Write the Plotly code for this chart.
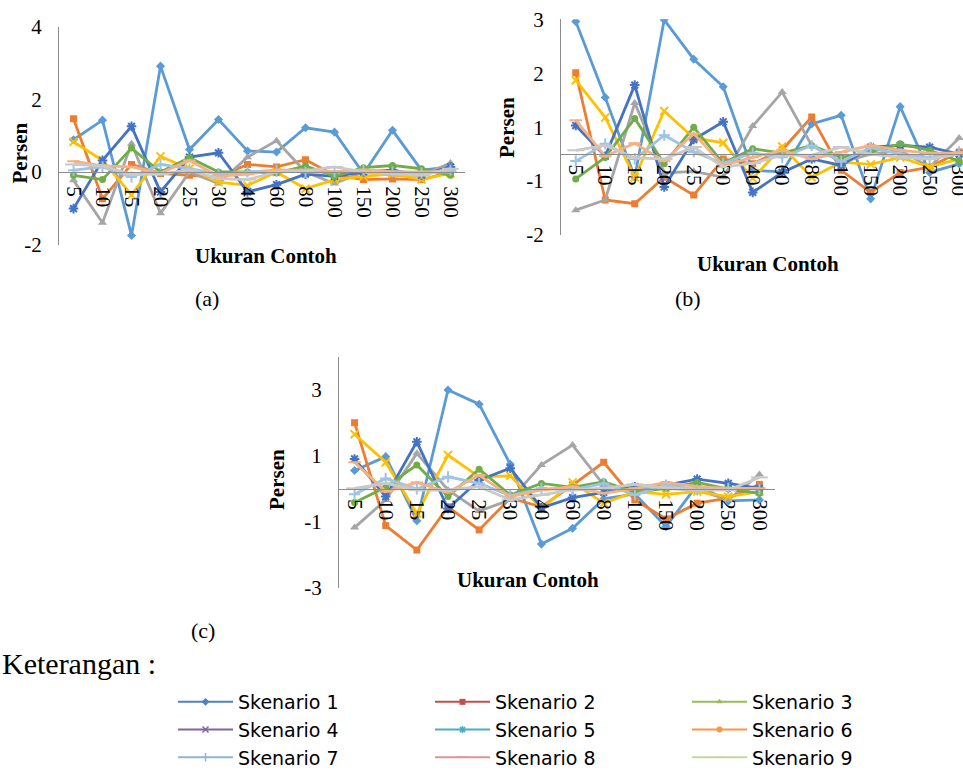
import plotly.graph_objects as go

# ---------------- data ----------------
categories = ["5", "10", "15", "20", "25", "30", "40", "60", "80", "100", "150", "200", "250", "300"]
series_names = ["Skenario 1", "Skenario 2", "Skenario 3", "Skenario 4", "Skenario 5",
                "Skenario 6", "Skenario 7", "Skenario 8", "Skenario 9"]

# panel (a)
a1 = [0.89, 1.43, -1.75, 2.92, 0.62, 1.45, 0.58, 0.55, 1.22, 1.10, -0.05, 1.15, 0.05, 0.14]
a2 = [1.47, -0.74, 0.21, -0.04, -0.09, -0.14, 0.21, 0.14, 0.34, -0.09, -0.21, -0.19, -0.21, 0.00]
a3 = [-0.23, -1.40, 0.78, -1.14, 0.00, -0.32, 0.41, 0.86, 0.00, -0.32, 0.00, -0.09, -0.09, 0.25]
a4 = [0.83, 0.32, -0.63, 0.43, 0.09, -0.28, -0.37, 0.00, -0.46, -0.21, -0.12, -0.05, -0.21, -0.03]
a5 = [-1.01, 0.32, 1.26, -0.55, 0.41, 0.53, -0.55, -0.35, -0.06, -0.12, 0.00, 0.05, -0.09, 0.14]
a6 = [-0.09, -0.21, 0.66, 0.00, 0.40, 0.00, 0.00, -0.03, 0.17, -0.12, 0.12, 0.18, 0.09, -0.09]
a7 = [0.05, 0.14, -0.14, 0.21, 0.09, -0.06, 0.00, 0.05, 0.00, 0.00, 0.05, 0.00, -0.03, 0.05]
a8 = [0.30, 0.17, 0.14, -0.03, 0.32, -0.12, -0.06, 0.05, 0.05, 0.00, 0.06, 0.00, 0.00, 0.00]
a9 = [0.21, 0.17, -0.07, -0.06, 0.06, -0.18, -0.21, 0.00, 0.03, 0.14, 0.00, -0.05, -0.09, 0.09]

# panel (b)
b1 = [2.46, 1.05, -0.43, 2.49, 1.76, 1.25, -0.30, -0.33, 0.56, 0.72, -0.83, 0.88, -0.34, -0.18]
b2 = [1.51, -0.85, -0.92, -0.43, -0.76, -0.09, -0.18, 0.08, 0.69, -0.30, -0.71, -0.34, -0.24, 0.04]
b3 = [-1.04, -0.85, 0.95, -0.35, -0.32, -0.43, 0.52, 1.15, 0.16, -0.15, 0.00, 0.07, -0.24, 0.30]
b4 = [1.37, 0.68, -0.43, 0.80, 0.30, 0.21, -0.45, 0.14, -0.43, -0.15, -0.19, -0.06, -0.24, -0.09]
b5 = [0.53, -0.04, 1.28, -0.61, 0.27, 0.60, -0.71, -0.34, -0.09, -0.21, 0.13, 0.16, 0.13, 0.00]
b6 = [-0.46, -0.06, 0.66, -0.18, 0.50, -0.17, 0.10, 0.02, 0.16, -0.06, 0.04, 0.19, 0.07, -0.13]
b7 = [-0.13, 0.19, -0.09, 0.35, 0.04, -0.17, 0.02, -0.06, 0.16, -0.14, 0.12, 0.00, -0.06, 0.04]
b8 = [0.63, -0.04, 0.20, -0.13, 0.38, -0.21, -0.06, 0.07, -0.09, 0.04, 0.16, 0.07, 0.02, 0.02]
b9 = [0.07, 0.16, -0.07, -0.09, 0.13, -0.24, -0.17, -0.02, -0.02, 0.13, 0.00, -0.06, -0.09, 0.00]

# panel (c)
c1 = [0.56, 0.98, -0.96, 3.00, 2.57, 0.75, -1.67, -1.19, -0.30, -0.15, -1.14, 0.12, -0.36, -0.33]
c2 = [2.01, -1.11, -1.85, -0.54, -1.24, -0.28, -0.54, 0.12, 0.81, -0.33, -0.91, -0.43, -0.28, 0.14]
c3 = [-1.17, -0.33, 1.08, -0.03, -0.67, -0.33, 0.73, 1.33, 0.12, -0.03, 0.02, -0.03, -0.33, 0.44]
c4 = [1.66, 0.81, -0.74, 1.03, 0.37, 0.40, -0.59, 0.20, -0.43, -0.08, -0.16, -0.08, -0.23, -0.08]
c5 = [0.91, -0.23, 1.43, -0.59, 0.27, 0.63, -0.57, -0.26, -0.10, 0.07, 0.12, 0.30, 0.17, 0.02]
c6 = [-0.41, 0.05, 0.73, -0.23, 0.60, -0.18, 0.17, 0.05, 0.22, -0.10, 0.02, 0.20, 0.00, -0.13]
c7 = [-0.16, 0.32, 0.00, 0.37, 0.17, -0.20, 0.02, -0.03, 0.17, -0.18, 0.12, -0.03, 0.02, 0.00]
c8 = [0.81, -0.08, 0.20, -0.10, 0.42, -0.23, -0.03, 0.07, -0.13, 0.02, 0.20, 0.07, 0.02, 0.02]
c9 = [0.02, 0.17, -0.03, -0.03, 0.07, -0.33, -0.18, -0.03, 0.02, 0.14, 0.04, -0.03, -0.03, 0.35]

panel_a = [a1, a2, a3, a4, a5, a6, a7, a8, a9]
panel_b = [b1, b2, b3, b4, b5, b6, b7, b8, b9]
panel_c = [c1, c2, c3, c4, c5, c6, c7, c8, c9]

# y tick positions / labels (as printed in each panel)
ya_vals = [-2, 0, 2, 4]
ya_text = ["-2", "0", "2", "4"]
yb_vals = [-1.5, -0.5, 0.5, 1.5, 2.5]
yb_text = ["-2", "-1", "1", "2", "3"]
yc_vals = [-3, -1, 1, 3]
yc_text = ["-3", "-1", "1", "3"]

# ---------------- styles ----------------
line_colors = ["#5B9BD5", "#ED7D31", "#A5A5A5", "#FFC000", "#4472C4",
               "#70AD47", "#9DC3E6", "#F4B183", "#C9C9C9"]
legend_colors = ["#4F81BD", "#C0504D", "#9BBB59", "#8064A2", "#4BACC6",
                 "#F79646", "#95B3D7", "#D99694", "#C3D69B"]
symbols = ["diamond", "square", "triangle-up", "x-thin", "asterisk",
           "circle", "cross-thin", "line-ew", "line-ew"]
msizes = [7, 7, 8, 8, 8, 7, 8, 9, 12]
line_sym = {"x-thin", "asterisk", "cross-thin", "line-ew"}

W, H = 963, 772
def px(x):
    return x / W
def py(y):
    return 1 - y / H

fig = go.Figure()

panels = [
    (panel_a, "x", "y"),
    (panel_b, "x2", "y2"),
    (panel_c, "x3", "y3"),
]
for data, xa, ya in panels:
    for i, vals in enumerate(data):
        sym = symbols[i]
        mk = dict(symbol=sym, size=msizes[i], color=line_colors[i])
        if sym in line_sym:
            mk["line"] = dict(color=line_colors[i], width=2)
        else:
            mk["line"] = dict(width=0)
        fig.add_trace(go.Scatter(
            x=categories, y=vals, mode="lines+markers",
            line=dict(color=line_colors[i], width=2.8),
            marker=mk, xaxis=xa, yaxis=ya, showlegend=False,
            name=series_names[i], cliponaxis=True))

# legend-only entries (legend palette as printed)
legend_of = ["legend", "legend2", "legend3"]
for i, nm in enumerate(series_names):
    sym = symbols[i]
    mk = dict(symbol=sym, size=6, color=legend_colors[i])
    if sym in line_sym:
        mk["line"] = dict(color=legend_colors[i], width=1.5)
    else:
        mk["line"] = dict(width=0)
    fig.add_trace(go.Scatter(
        x=[None], y=[None], mode="lines+markers", name=nm,
        line=dict(color=legend_colors[i], width=2), marker=mk,
        legend=legend_of[i % 3], showlegend=True, xaxis="x", yaxis="y"))

axis_line = "#8C8C8C"
tick_font = dict(family="Liberation Serif, Times New Roman, serif", size=21, color="black")

def xaxis(dom, rng, zero_pos, standoff):
    return dict(domain=dom, range=rng, type="category", anchor="free", position=zero_pos,
                showline=True, linecolor=axis_line, linewidth=1.3, ticks="",
                tickmode="array", tickvals=categories, ticktext=categories,
                tickangle=90, tickfont=tick_font, showgrid=False, zeroline=False,
                ticklabelstandoff=standoff)

def yaxis(dom, rng, xa, vals, text):
    return dict(domain=dom, range=rng, anchor=xa, showline=True, linecolor=axis_line,
                linewidth=1.3, ticks="", tickmode="array", tickvals=vals, ticktext=text,
                tickfont=tick_font, showgrid=False, zeroline=False, ticklabelstandoff=12)

# panel a
ya_dom = [py(244.5), py(27)]
za = ya_dom[0] + (ya_dom[1] - ya_dom[0]) * 2 / 6
# panel b
yb_dom = [py(235), py(19.3)]
zb = yb_dom[0] + (yb_dom[1] - yb_dom[0]) * 1.5 / 4
# panel c
yc_dom = [py(588), py(357)]
zc = yc_dom[0] + (yc_dom[1] - yc_dom[0]) * 3 / 7

fig.update_layout(
    xaxis=xaxis([px(59), px(465)], [-0.5, 13.5], za, 9),
    yaxis=yaxis(ya_dom, [-2, 4], "x", ya_vals, ya_text),
    xaxis2=xaxis([px(561), 1.0], [-0.5, 13.13], zb, 5),
    yaxis2=yaxis(yb_dom, [-1.5, 2.5], "x2", yb_vals, yb_text),
    xaxis3=xaxis([px(339), px(775)], [-0.5, 13.5], zc, 5),
    yaxis3=yaxis(yc_dom, [-3, 4], "x3", yc_vals, yc_text),
)

leg_font = dict(family="DejaVu Sans, sans-serif", size=19, color="black")
for k, xx in zip(legend_of, [173, 430, 687]):
    fig.layout[k] = dict(x=px(xx), y=py(683), xanchor="left", yanchor="top",
                         orientation="v", font=leg_font, bgcolor="rgba(0,0,0,0)",
                         itemwidth=55, tracegroupgap=0, borderwidth=0)

title_font = dict(family="Liberation Serif, Times New Roman, serif", size=21, color="black")
lab_font = dict(family="Liberation Serif, Times New Roman, serif", size=22, color="black")
ann = []
for (xp, yp) in [(19.5, 153), (507, 127), (277, 480)]:
    ann.append(dict(text="<b>Persen</b>", x=px(xp), y=py(yp), xref="paper", yref="paper",
                    showarrow=False, textangle=-90, font=title_font,
                    xanchor="center", yanchor="middle"))
for (xp, yp) in [(266, 256), (768, 264), (528, 580)]:
    ann.append(dict(text="<b>Ukuran Contoh</b>", x=px(xp), y=py(yp), xref="paper", yref="paper",
                    showarrow=False, font=title_font, xanchor="center", yanchor="middle"))
for (t, xp, yp) in [("(a)", 207, 298), ("(b)", 688, 298), ("(c)", 203, 630)]:
    ann.append(dict(text=t, x=px(xp), y=py(yp), xref="paper", yref="paper",
                    showarrow=False, font=lab_font, xanchor="center", yanchor="middle"))
ann.append(dict(text="Keterangan :", x=0, y=py(663), xref="paper", yref="paper",
                showarrow=False, xanchor="left", yanchor="middle",
                font=dict(family="Liberation Serif, Times New Roman, serif", size=30, color="black")))

fig.update_layout(
    width=W, height=H, margin=dict(l=0, r=0, t=0, b=0, autoexpand=False),
    paper_bgcolor="white", plot_bgcolor="rgba(0,0,0,0)",
    annotations=ann, showlegend=True,
)

fig.write_html("out.html")
